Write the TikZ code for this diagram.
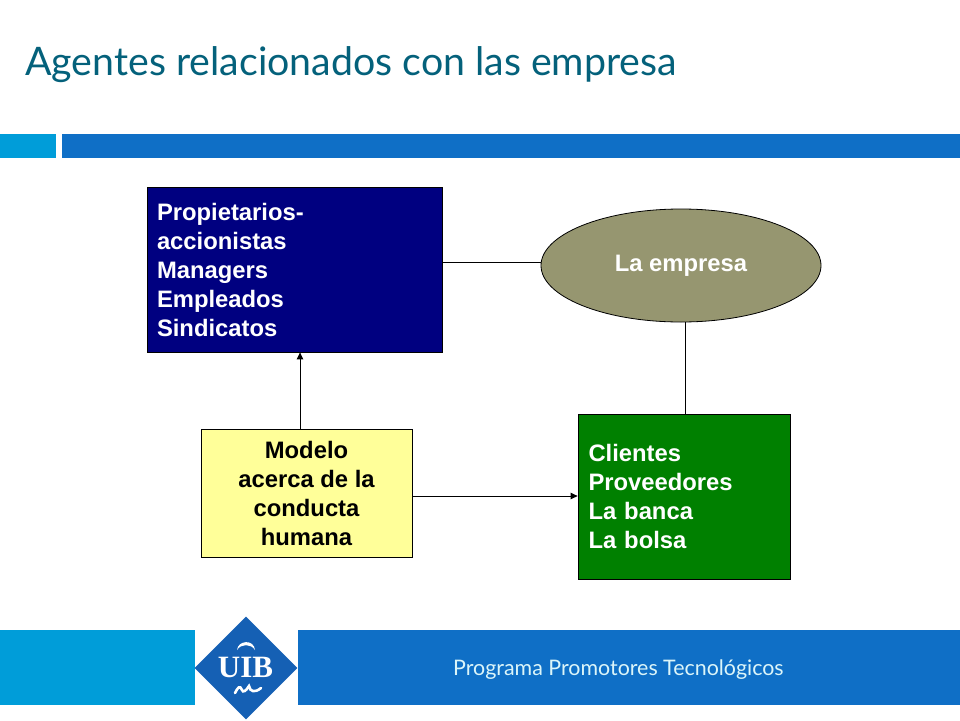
\documentclass[tikz,border=0pt]{standalone}
\usepackage{fontspec}
\setmainfont{Liberation Sans}
\newfontfamily\titlefont{Lato}
\newfontfamily\logofont{Liberation Serif}
\usetikzlibrary{shapes.geometric,arrows.meta}
\definecolor{flowdark}{HTML}{0F6FC6}
\definecolor{flowlight}{HTML}{009DD9}
\definecolor{logoblue}{HTML}{1560B4}
\definecolor{titlecol}{HTML}{04617B}
\definecolor{navybox}{HTML}{000080}
\definecolor{olivebox}{HTML}{969670}
\definecolor{greenbox}{HTML}{008000}
\definecolor{yellowbox}{HTML}{FFFF99}
\definecolor{foottext}{HTML}{DBF5F9}
\tikzset{
  x=1pt,y=-1pt,
  band/.style={fill=#1,draw=none},
  box/.style={draw=black,line width=0.8pt,minimum width=#1,inner sep=0pt,font=\fontsize{23.8}{29}\selectfont\bfseries},
  conn/.style={draw=black,line width=0.9pt},
  arr/.style={conn,-{Triangle[length=7pt,width=6.5pt]}},
}
\begin{document}
\begin{tikzpicture}
\useasboundingbox (0,0) rectangle (960,720);
\fill[white] (0,0) rectangle (960,720);
\fill[band=flowlight] (0,134) rectangle (56,158);
\fill[band=flowdark] (62,134) rectangle (960,158);
\fill[band=flowlight] (0,630) rectangle (195,705);
\fill[band=flowdark] (298,630) rectangle (960,705);
\node[anchor=west,inner sep=0pt,text=titlecol,font=\titlefont\fontsize{39.3}{44}\selectfont] (title) at (25,65) {Agentes relacionados con las empresa};
\node[anchor=west,inner sep=0pt,text=foottext,font=\titlefont\fontsize{21.4}{26}\selectfont] (foot) at (453,669.5) {Programa Promotores Tecnológicos};
% logo
\node[diamond,fill=logoblue,draw=none,minimum width=103pt,minimum height=103pt,inner sep=0pt,aspect=1] (logo) at (246,668) {};
\node[text=white,inner sep=0pt,font=\logofont\bfseries\fontsize{31}{31}\selectfont] (uib) at (245.5,667) {UIB};
\fill[white] (237,650) .. controls (238,640) and (254,639) .. (255,650) .. controls (251,643.5) and (241,643.5) .. (237,650) -- cycle;
\draw[white,line width=2.6pt,line cap=round] (235,693) .. controls (238,687) and (240,685) .. (242,690) .. controls (243,693) and (246,691) .. (249,686) .. controls (250,692) and (255,693) .. (261,688);
% boxes
\node[box=295pt,fill=navybox,text=white,minimum height=165pt,text width=275pt,align=left] (own) at (294.5,269.5) {Propietarios-accionistas\\Managers\\Empleados\\Sindicatos};
\node[ellipse,draw=black,line width=0.8pt,fill=olivebox,minimum width=280pt,minimum height=113pt,inner sep=0pt,text=white,font=\fontsize{23.8}{29}\selectfont\bfseries] (emp) at (681,265.5) {\raisebox{-2pt}{La empresa}};
\node[box=211pt,fill=yellowbox,text=black,minimum height=128pt,align=center] (mod) at (306.5,493) {Modelo\\acerca de la\\conducta\\humana};
\node[box=212pt,fill=greenbox,text=white,minimum height=165pt,text width=191pt,align=left] (cli) at (684,496.5) {Clientes\\Proveedores\\La banca\\La bolsa};
% connectors
\coordinate (a) at (300,0);
\coordinate (b) at (0,496);
\coordinate (c) at (685,0);
\coordinate (d) at (0,262);
\draw[arr] (mod.north -| a) -- (own.south -| a);
\draw[arr] (mod.east |- b) -- (cli.west |- b);
\draw[conn] (own.east |- d) -- (emp.west |- d);
\draw[conn] (emp.south -| c) -- (cli.north -| c);
\end{tikzpicture}
\end{document}
